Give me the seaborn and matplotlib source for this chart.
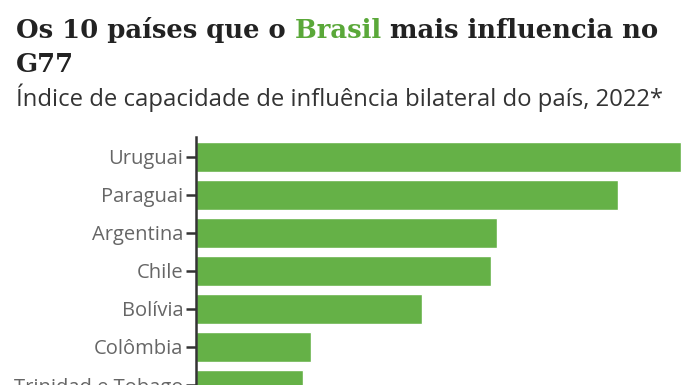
import pandas as pd
import matplotlib.pyplot as plt
import seaborn as sns

# Índice de capacidade de influência bilateral (escala relativa)
paises = ['Uruguai', 'Paraguai', 'Argentina', 'Chile', 'Bolívia', 'Colômbia', 'Trinidad e Tobago']
indice = [48.5, 42.2, 30.1, 29.5, 22.6, 11.5, 10.7]

df = pd.DataFrame({'pais': paises, 'indice': indice})

sns.set_style('white')
plt.rcParams['font.family'] = ['Open Sans', 'DejaVu Sans']

verde = '#65b147'
fig = plt.figure(figsize=(6.96, 3.85), dpi=100)
ax = fig.add_axes([196 / 696, 0, 500 / 696, (385 - 137) / 385])

sns.barplot(data=df, x='indice', y='pais', color=verde, width=0.79,
            saturation=1, ax=ax)

ax.set_xlim(0, 50)
ax.set_ylim(6.0, -0.526)
ax.set_xlabel('')
ax.set_ylabel('')
ax.set_xticks([])
for s in ['top', 'right', 'bottom']:
    ax.spines[s].set_visible(False)
ax.spines['left'].set_color('#333333')
ax.spines['left'].set_linewidth(1.8)
ax.tick_params(axis='y', length=7, width=1.8, color='#333333', pad=2,
               labelsize=14.5, labelcolor='#666666', left=True)

# título com "Brasil" em verde
tam = 18.6
t1 = fig.text(16 / 696, 1 - 38 / 385, 'Os 10 países que o', family='DejaVu Serif',
              fontsize=tam, fontweight='bold', color='#222222', va='baseline')
t2 = ax.annotate(' Brasil', xy=(1, 0), xycoords=t1, family='DejaVu Serif',
                 fontsize=tam, fontweight='bold', color='#5aa839', va='bottom',
                 annotation_clip=False)
t3 = ax.annotate(' mais influencia no', xy=(1, 0), xycoords=t2, family='DejaVu Serif',
                 fontsize=tam, fontweight='bold', color='#222222', va='bottom',
                 annotation_clip=False)
fig.text(16 / 696, 1 - 72 / 385, 'G77', family='DejaVu Serif',
         fontsize=tam, fontweight='bold', color='#222222', va='baseline')
fig.text(16 / 696, 1 - 106 / 385, 'Índice de capacidade de influência bilateral do país, 2022*',
         fontsize=17.2, color='#333333', va='baseline')

plt.savefig('out.png', dpi=100)
